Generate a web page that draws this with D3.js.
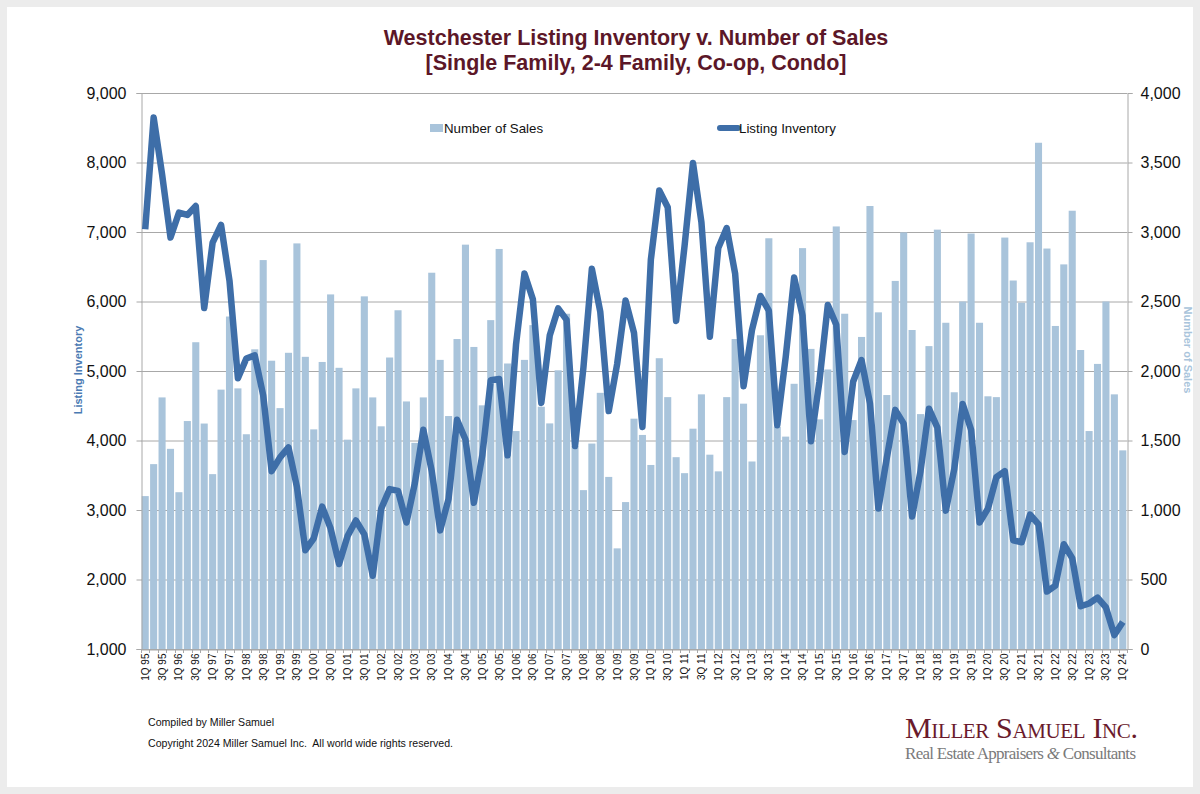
<!DOCTYPE html>
<html>
<head>
<meta charset="utf-8">
<script src="https://cdn.jsdelivr.net/npm/d3@7"></script>
<style>
  html, body { margin: 0; padding: 0; background: #ececec; }
  svg { display: block; }
</style>
</head>
<body>
<svg id="chart" width="1200" height="794"></svg>
<script>
// quarter labels 1Q 95 .. 1Q 24
const quarters = [
  "1Q 95","2Q 95","3Q 95","4Q 95","1Q 96","2Q 96","3Q 96","4Q 96","1Q 97","2Q 97","3Q 97","4Q 97",
  "1Q 98","2Q 98","3Q 98","4Q 98","1Q 99","2Q 99","3Q 99","4Q 99","1Q 00","2Q 00","3Q 00","4Q 00",
  "1Q 01","2Q 01","3Q 01","4Q 01","1Q 02","2Q 02","3Q 02","4Q 02","1Q 03","2Q 03","3Q 03","4Q 03",
  "1Q 04","2Q 04","3Q 04","4Q 04","1Q 05","2Q 05","3Q 05","4Q 05","1Q 06","2Q 06","3Q 06","4Q 06",
  "1Q 07","2Q 07","3Q 07","4Q 07","1Q 08","2Q 08","3Q 08","4Q 08","1Q 09","2Q 09","3Q 09","4Q 09",
  "1Q 10","2Q 10","3Q 10","4Q 10","1Q 11","2Q 11","3Q 11","4Q 11","1Q 12","2Q 12","3Q 12","4Q 12",
  "1Q 13","2Q 13","3Q 13","4Q 13","1Q 14","2Q 14","3Q 14","4Q 14","1Q 15","2Q 15","3Q 15","4Q 15",
  "1Q 16","2Q 16","3Q 16","4Q 16","1Q 17","2Q 17","3Q 17","4Q 17","1Q 18","2Q 18","3Q 18","4Q 18",
  "1Q 19","2Q 19","3Q 19","4Q 19","1Q 20","2Q 20","3Q 20","4Q 20","1Q 21","2Q 21","3Q 21","4Q 21",
  "1Q 22","2Q 22","3Q 22","4Q 22","1Q 23","2Q 23","3Q 23","4Q 23","1Q 24"
];

// Number of Sales (right axis)
const sales = [
  1100, 1330, 1810, 1440, 1128, 1640, 2207, 1622, 1258, 1866, 2392, 1875,
  1545, 2156, 2798, 2074, 1733, 2131, 2918, 2102, 1580, 2065, 2551, 2023,
  1506, 1875, 2537, 1810, 1602, 2097, 2437, 1781, 1483, 1810, 2707, 2080,
  1676, 2230, 2909, 2173, 1753, 2366, 2878, 2054, 1568, 2080, 2330, 1743,
  1623, 2005, 2412, 1459, 1143, 1478, 1843, 1238, 724, 1057, 1657, 1540,
  1324, 2092, 1812, 1380, 1265, 1585, 1832, 1398, 1278, 1812, 2230, 1765,
  1349, 2257, 2955, 1600, 1528, 1908, 2884, 2159, 1652, 2011, 3040, 2412,
  1647, 2245, 3187, 2422, 1827, 2648, 2997, 2295, 1690, 2179, 3017, 2347,
  1847, 2500, 2989, 2347, 1818, 1812, 2960, 2651, 2491, 2926, 3642, 2881,
  2324, 2767, 3153, 2151, 1568, 2051, 2500, 1832, 1429
];

// Listing Inventory (left axis)
const inventory = [
  7040, 8647, 7830, 6920, 7278, 7245, 7374, 5907, 6848, 7102, 6300, 4895,
  5180, 5225, 4650, 3559, 3758, 3900, 3332, 2422, 2593, 3048, 2735, 2223,
  2621, 2849, 2650, 2053, 3019, 3300, 3275, 2820, 3389, 4156, 3559, 2707,
  3162, 4298, 4014, 3105, 3787, 4867, 4884, 3787, 5379, 6402, 6033, 4540,
  5510, 5900, 5735, 3920, 5050, 6470, 5850, 4423, 5100, 6015, 5549, 4195,
  6601, 7596, 7357, 5720, 6800, 7994, 7141, 5492, 6771, 7056, 6402, 4782,
  5590, 6080, 5870, 4220, 5200, 6345, 5795, 3990, 4850, 5950, 5665, 3835,
  4845, 5158, 4535, 3020, 3750, 4441, 4242, 2906, 3559, 4458, 4185, 2991,
  3588, 4526, 4156, 2820, 3019, 3474, 3559, 2564, 2535, 2934, 2792, 1826,
  1911, 2507, 2308, 1615, 1655, 1740, 1598, 1200, 1387
];

const leftTicks = [1000, 2000, 3000, 4000, 5000, 6000, 7000, 8000, 9000];
const rightTicks = [0, 500, 1000, 1500, 2000, 2500, 3000, 3500, 4000];

const barColor = "#a9c4db";
const lineColor = "#3e6ea8";
const gridColor = "#a8a8a8";
const font = "'Liberation Sans', Arial, sans-serif";

const svg = d3.select("#chart");

//White card on grey page
svg.append("rect")
    .attr("x", 7).attr("y", 7)
    .attr("width", 1186).attr("height", 780)
    .attr("fill", "#fff");

const plot = { left: 141, right: 1127, top: 93, bottom: 649 };

const x = d3.scaleBand()
    .domain(quarters)
    .range([plot.left, plot.right])
    .paddingInner(0.16)
    .paddingOuter(0.08);

const yLeft = d3.scaleLinear().domain([1000, 9000]).range([plot.bottom, plot.top]);
const yRight = d3.scaleLinear().domain([0, 4000]).range([plot.bottom, plot.top]);

//Gridlines
svg.append("g")
    .selectAll("line")
    .data(leftTicks)
    .join("line")
    .attr("x1", plot.left).attr("x2", plot.right)
    .attr("y1", d => yLeft(d) + 0.5).attr("y2", d => yLeft(d) + 0.5)
    .attr("stroke", gridColor)
    .attr("stroke-width", 1);

//Bars - number of sales
svg.append("g")
    .selectAll("rect")
    .data(sales)
    .join("rect")
    .attr("x", (d, i) => x(quarters[i]))
    .attr("width", x.bandwidth())
    .attr("y", d => yRight(d))
    .attr("height", d => plot.bottom - yRight(d))
    .attr("fill", barColor);

//Axes
const leftAxis = svg.append("g")
    .attr("transform", `translate(${plot.left + 0.5},0)`)
    .call(d3.axisLeft(yLeft).tickValues(leftTicks).tickFormat(d3.format(",")).tickSize(5).tickPadding(10));

const rightAxis = svg.append("g")
    .attr("transform", `translate(${plot.right + 0.5},0)`)
    .call(d3.axisRight(yRight).tickValues(rightTicks).tickFormat(d3.format(",")).tickSize(5).tickPadding(8));

[leftAxis, rightAxis].forEach(g => {
    g.select(".domain").attr("stroke", gridColor);
    g.selectAll(".tick line").attr("stroke", gridColor);
    g.selectAll(".tick text")
        .attr("fill", "#111")
        .style("font-family", font)
        .style("font-size", "16px");
});

const bottomAxis = svg.append("g")
    .attr("transform", `translate(0,${plot.bottom + 0.5})`)
    .call(d3.axisBottom(x)
        .tickValues(quarters.filter((q, i) => i % 2 === 0))
        .tickSize(0)
        .tickPadding(4));

bottomAxis.select(".domain").attr("stroke", gridColor);
bottomAxis.selectAll(".tick text")
    .attr("transform", "rotate(-90)")
    .attr("x", -4)
    .attr("y", 0)
    .attr("dy", "0.35em")
    .attr("text-anchor", "end")
    .attr("fill", "#111")
    .style("font-family", font)
    .style("font-size", "10px");

//Small ticks between every quarter
svg.append("g")
    .selectAll("line")
    .data(d3.range(quarters.length + 1))
    .join("line")
    .attr("x1", i => Math.round(plot.left + i * (plot.right - plot.left) / quarters.length) + 0.5)
    .attr("x2", i => Math.round(plot.left + i * (plot.right - plot.left) / quarters.length) + 0.5)
    .attr("y1", plot.bottom)
    .attr("y2", plot.bottom + 4)
    .attr("stroke", gridColor);

//Line - listing inventory
const line = d3.line()
    .x((d, i) => x(quarters[i]) + x.bandwidth() / 2)
    .y(d => yLeft(d));

svg.append("path")
    .datum(inventory)
    .attr("d", line)
    .attr("fill", "none")
    .attr("stroke", lineColor)
    .attr("stroke-width", 6.5)
    .attr("stroke-linejoin", "round");

//Titles
const titleColor = "#5c1728";
svg.append("text")
    .attr("x", 636).attr("y", 45)
    .attr("text-anchor", "middle")
    .attr("fill", titleColor)
    .style("font-family", font)
    .style("font-size", "21.5px")
    .style("font-weight", "bold")
    .text("Westchester Listing Inventory v. Number of Sales");

svg.append("text")
    .attr("x", 636).attr("y", 70)
    .attr("text-anchor", "middle")
    .attr("fill", titleColor)
    .style("font-family", font)
    .style("font-size", "21.5px")
    .style("font-weight", "bold")
    .text("[Single Family, 2-4 Family, Co-op, Condo]");

//Axis titles
svg.append("text")
    .attr("transform", "translate(82,370) rotate(-90)")
    .attr("text-anchor", "middle")
    .attr("fill", "#4a7ab3")
    .style("font-family", font)
    .style("font-size", "11px")
    .style("font-weight", "bold")
    .text("Listing Inventory");

svg.append("text")
    .attr("transform", "translate(1184,350) rotate(90)")
    .attr("text-anchor", "middle")
    .attr("fill", "#a9c4db")
    .style("font-family", font)
    .style("font-size", "11px")
    .style("font-weight", "bold")
    .text("Number of Sales");

//Legend
const legend = svg.append("g").style("font-family", font).style("font-size", "13.3px");
legend.append("rect")
    .attr("x", 430).attr("y", 124)
    .attr("width", 13).attr("height", 8)
    .attr("fill", barColor);
legend.append("text")
    .attr("x", 444).attr("y", 132.5)
    .attr("fill", "#111")
    .text("Number of Sales");
legend.append("line")
    .attr("x1", 720).attr("x2", 738)
    .attr("y1", 128).attr("y2", 128)
    .attr("stroke", lineColor)
    .attr("stroke-width", 6)
    .attr("stroke-linecap", "round");
legend.append("text")
    .attr("x", 739).attr("y", 132.5)
    .attr("fill", "#111")
    .text("Listing Inventory");

//Footer notes
const foot = svg.append("g").style("font-family", font).style("font-size", "10.6px").attr("fill", "#111");
foot.append("text").attr("x", 148).attr("y", 726).text("Compiled by Miller Samuel");
foot.append("text").attr("x", 148).attr("y", 747)
    .attr("xml:space", "preserve")
    .text("Copyright 2024 Miller Samuel Inc.  All world wide rights reserved.");

//Logo
const serif = "'Liberation Serif', 'DejaVu Serif', serif";
svg.append("text")
    .attr("x", 905).attr("y", 738)
    .attr("fill", "#6a1a2c")
    .style("font-family", serif)
    .style("font-size", "30px")
    .style("font-variant", "small-caps")
    .attr("textLength", 233)
    .text("Miller Samuel Inc.");

const tag = svg.append("text")
    .attr("x", 905).attr("y", 759)
    .attr("fill", "#7a7a7a")
    .style("font-family", serif)
    .style("font-size", "17px")
    .attr("textLength", 231);
tag.append("tspan").text("Real Estate Appraisers ");
tag.append("tspan").style("font-style", "italic").text("&");
tag.append("tspan").text(" Consultants");
</script>
</body>
</html>
